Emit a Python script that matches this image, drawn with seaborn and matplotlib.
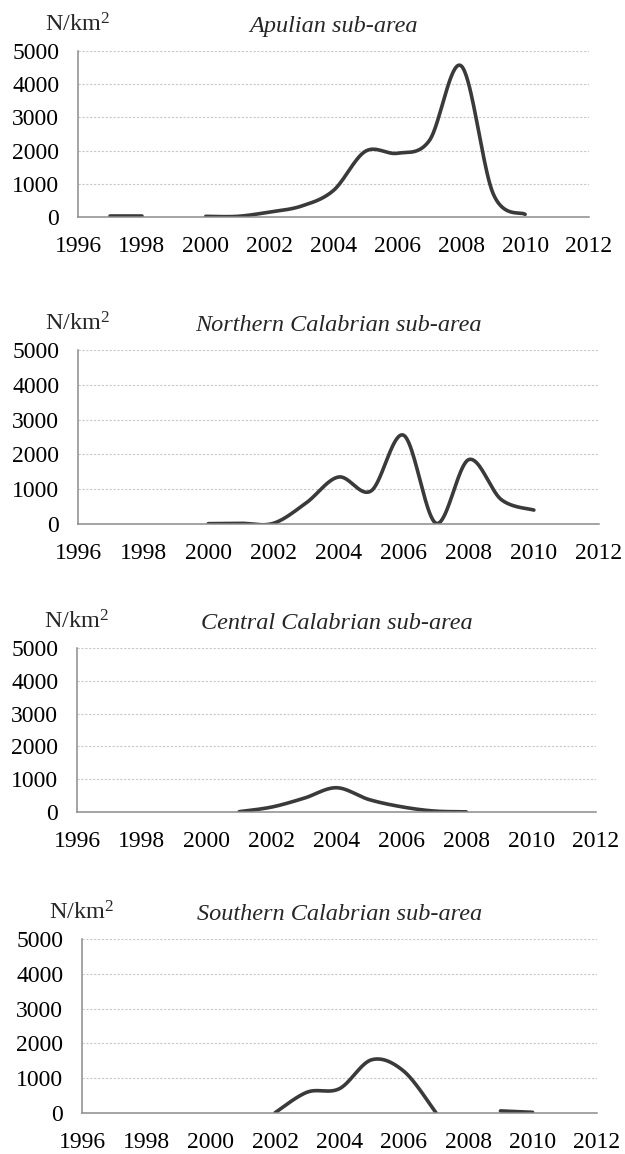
import numpy as np
import pandas as pd
import matplotlib
matplotlib.use("Agg")
import matplotlib.pyplot as plt
import seaborn as sns

# Density (N/km2) per sub-area; None marks a missing year (gap in the line)
years = list(range(1996, 2013))
titles = ["Apulian sub-area", "Northern Calabrian sub-area",
          "Central Calabrian sub-area", "Southern Calabrian sub-area"]

apulian = {1997: 20, 1998: 20, 1999: None, 2000: 20, 2001: 20, 2002: 150,
           2003: 330, 2004: 800, 2005: 1980, 2006: 1920, 2007: 2300,
           2008: 4550, 2009: 700, 2010: 80}
northern = {2000: 10, 2001: 20, 2002: 20, 2003: 600, 2004: 1350, 2005: 950,
            2006: 2550, 2007: 20, 2008: 1850, 2009: 700, 2010: 400}
central = {2001: 10, 2002: 150, 2003: 420, 2004: 740, 2005: 380, 2006: 160,
           2007: 30, 2008: 5}
southern = {2002: 10, 2003: 600, 2004: 700, 2005: 1530, 2006: 1200,
            2007: 5, 2008: None, 2009: 60, 2010: 20}
series = [apulian, northern, central, southern]

# axes boxes in pixels: left, right, top, bottom
boxes = [(78, 589, 51, 217), (78, 599, 350, 524),
         (77, 596, 648, 812), (82, 597, 939, 1113)]

W, H = 625, 1154
LINE = "#3a3a3a"


def segments(d):
    segs, cur = [], []
    for yr in sorted(d):
        if d[yr] is None:
            if cur:
                segs.append(cur)
            cur = []
        else:
            cur.append((yr, d[yr]))
    if cur:
        segs.append(cur)
    return segs


def smooth(pts, n=40):
    # Excel-style smoothed line: cubic Bezier with Catmull-Rom control points
    p = np.array(pts, dtype=float)
    if len(p) < 2:
        return p
    ext = np.vstack([p[0], p, p[-1]])
    out = []
    t = np.linspace(0, 1, n)[:, None]
    for i in range(1, len(ext) - 2):
        p0, p1, p2, p3 = ext[i - 1], ext[i], ext[i + 1], ext[i + 2]
        c1 = p1 + (p2 - p0) / 6
        c2 = p2 - (p3 - p1) / 6
        b = ((1 - t) ** 3) * p1 + 3 * ((1 - t) ** 2) * t * c1 \
            + 3 * (1 - t) * t ** 2 * c2 + t ** 3 * p2
        out.append(b if i == 1 else b[1:])
    return np.vstack(out)


sns.set_theme(style="white")
plt.rcParams["font.family"] = ["Liberation Serif", "DejaVu Serif"]
plt.rcParams["mathtext.fontset"] = "custom"
plt.rcParams["mathtext.rm"] = "Liberation Serif"
plt.rcParams["mathtext.it"] = "Liberation Serif:italic"

fig = plt.figure(figsize=(W / 100, H / 100), dpi=100)

for title, data, (l, r, t, b) in zip(titles, series, boxes):
    ax = fig.add_axes([l / W, 1 - b / H, (r - l) / W, (b - t) / H])
    for seg in segments(data):
        curve = smooth(seg)
        df = pd.DataFrame({"year": curve[:, 0], "n": curve[:, 1]})
        sns.lineplot(data=df, x="year", y="n", ax=ax, color=LINE, lw=2.6,
                     sort=False, estimator=None)
    ax.set_xlim(1996, 2012)
    ax.set_ylim(0, 5000)
    ax.set_xticks(years[::2])
    ax.set_yticks(range(0, 5001, 1000))
    ax.set_xlabel("")
    ax.set_ylabel("")
    ax.yaxis.grid(True, color="#c8c8c8", ls=(0, (2, 1.5)), lw=0.8)
    ax.set_axisbelow(True)
    for s in ["top", "right"]:
        ax.spines[s].set_visible(False)
    for s in ["left", "bottom"]:
        ax.spines[s].set_color("#8c8c8c")
        ax.spines[s].set_linewidth(1.1)
    ax.tick_params(axis="both", labelsize=17, colors="#8c8c8c",
                   labelcolor="black", direction="out", length=4.5, width=1.1)
    ax.tick_params(axis="x", pad=9)
    ax.tick_params(axis="y", pad=9)
    ax.annotate(title, xy=(0.5, 1), xycoords="axes fraction",
                xytext=(0, 14), textcoords="offset points",
                ha="center", va="baseline", fontsize=17.5, style="italic")
    ax.annotate("N/km$^{2}$", xy=(0, 1), xycoords="axes fraction",
                xytext=(-24, 14), textcoords="offset points",
                ha="left", va="baseline", fontsize=17.5)

fig.savefig("out.png", dpi=100)
